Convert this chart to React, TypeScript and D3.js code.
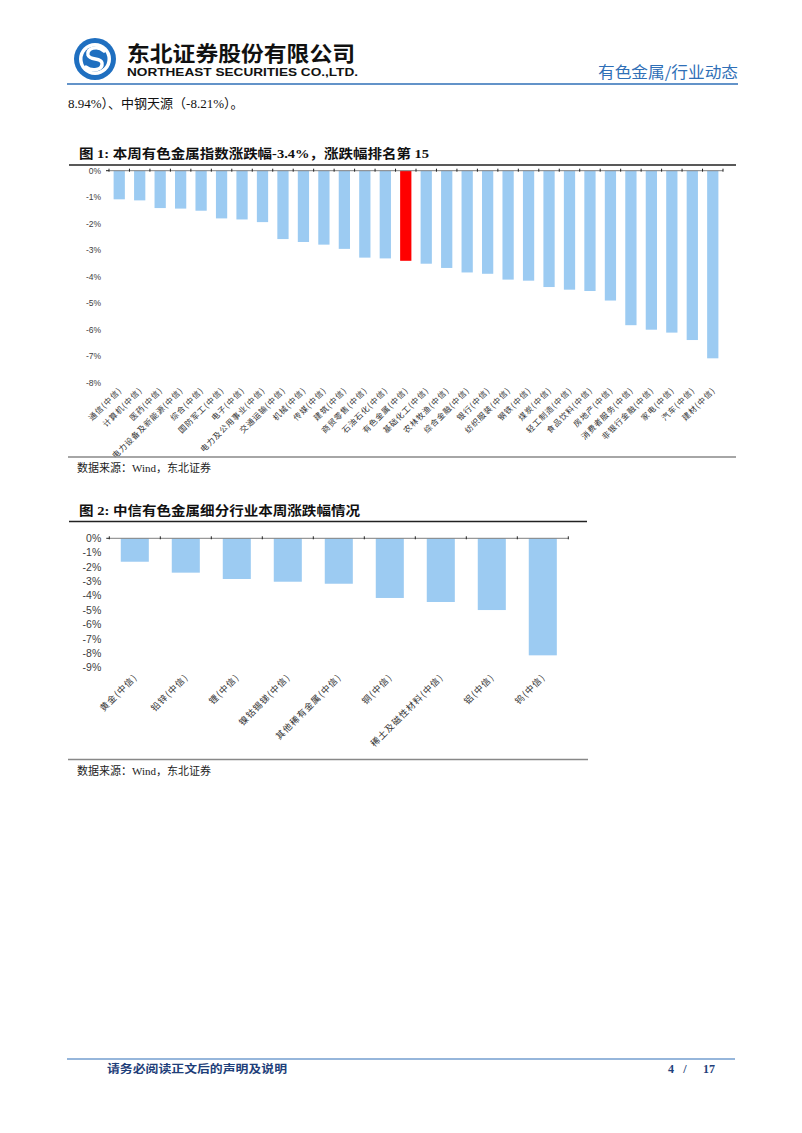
import React from "react";
import * as d3 from "d3";

const cats1 = ["通信(中信)", "计算机(中信)", "医药(中信)", "电力设备及新能源(中信)", "综合(中信)", "国防军工(中信)", "电子(中信)", "电力及公用事业(中信)", "交通运输(中信)", "机械(中信)", "传媒(中信)", "建筑(中信)", "商贸零售(中信)", "石油石化(中信)", "有色金属(中信)", "基础化工(中信)", "农林牧渔(中信)", "综合金融(中信)", "银行(中信)", "纺织服装(中信)", "钢铁(中信)", "煤炭(中信)", "轻工制造(中信)", "食品饮料(中信)", "房地产(中信)", "消费者服务(中信)", "非银行金融(中信)", "家电(中信)", "汽车(中信)", "建材(中信)"];
const vals1 = [-1.08, -1.12, -1.41, -1.43, -1.51, -1.80, -1.84, -1.94, -2.58, -2.69, -2.79, -2.95, -3.28, -3.31, -3.40, -3.51, -3.67, -3.84, -3.89, -4.11, -4.15, -4.39, -4.49, -4.54, -4.90, -5.83, -6.00, -6.11, -6.39, -7.08];
const highlight1 = "有色金属(中信)";
const ticks1 = [0, -1, -2, -3, -4, -5, -6, -7, -8];

const cats2 = ["黄金(中信)", "铅锌(中信)", "锂(中信)", "镍钴锡锑(中信)", "其他稀有金属(中信)", "铜(中信)", "稀土及磁性材料(中信)", "铝(中信)", "钨(中信)"];
const vals2 = [-1.63, -2.39, -2.83, -3.02, -3.16, -4.15, -4.43, -4.99, -8.14];
const ticks2 = [0, -1, -2, -3, -4, -5, -6, -7, -8, -9];

const BAR = "#9ccbf2";
const RED = "#ff0000";
const BLUE = "#2f6fb7";
const CJK = "'Noto Sans CJK SC', 'Liberation Sans', sans-serif";
const SERIF = "'Liberation Serif', 'Noto Sans CJK SC', serif";
const SANS = "'Liberation Sans', Arial, sans-serif";

function BarChart(props: {
  cats: string[]; vals: number[]; ticks: number[]; x0: number; x1: number; yTop: number; yBot: number;
  yMin: number; tickFont: number; labelFont: number; labelSpacing: number; labelY: number; highlight?: string;
}) {
  const { cats, vals, ticks, x0, x1, yTop, yBot, yMin, tickFont, labelFont, labelSpacing, labelY, highlight } = props;
  const x = d3.scaleBand<string>().domain(cats).range([x0, x1]).paddingInner(0.45).paddingOuter(0.225);
  const y = d3.scaleLinear().domain([yMin, 0]).range([yBot, yTop]);
  const step = x.step();
  const bounds = d3.range(cats.length + 1).map((i) => x0 + i * step);
  return (
    <g>
      {cats.map((c, i) => (
        <rect key={c} x={x(c)} y={y(0)} width={x.bandwidth()} height={y(vals[i]) - y(0)}
          fill={c === highlight ? RED : BAR} />
      ))}
      <line x1={x0} x2={x1} y1={y(0)} y2={y(0)} stroke="#7f7f7f" strokeWidth={1} />
      {bounds.map((b, i) => (
        <line key={i} x1={b} x2={b} y1={y(0) - 2} y2={y(0) + 1} stroke="#222" strokeWidth={1} />
      ))}
      <line x1={x0 - 3} x2={x0} y1={y(0)} y2={y(0)} stroke="#222" strokeWidth={1} />
      {ticks.map((t) => (
        <text key={t} x={x0 - 8} y={y(t)} dy="0.35em" textAnchor="end" fontSize={tickFont}
          fontFamily={SANS} fill="#404040">{`${t}%`}</text>
      ))}
      {cats.map((c) => {
        const cx = (x(c) as number) + x.bandwidth() / 2;
        return (
          <text key={c} transform={`translate(${cx + 3},${labelY}) rotate(-45)`} textAnchor="end"
            fontSize={labelFont} letterSpacing={labelSpacing} fontFamily={CJK} fill="#333">{c}</text>
        );
      })}
    </g>
  );
}

export default function App() {
  return (
    <svg width={802} height={1133} style={{ position: "absolute", left: 0, top: 0, background: "#fff" }}>
      <rect width={802} height={1133} fill="#fff" />
      {/* header logo */}
      <g>
        <circle cx={95} cy={59} r={21} fill="#1f6fc0" />
        <circle cx={95} cy={59} r={16} fill="#fff" />
        <circle cx={95} cy={59} r={12.5} fill="#1f6fc0" />
        <path d="M 104 51 C 98 45, 86 48, 88 55 C 90 61, 101 57, 102 63 C 103 70, 92 72, 86 67"
          fill="none" stroke="#fff" strokeWidth={3.5} strokeLinecap="round" />
      </g>
      <text x={127} y={61} fontSize={21} fontWeight="bold" fontFamily={CJK} fill="#111"
        textLength={228} lengthAdjust="spacingAndGlyphs">东北证券股份有限公司</text>
      <text x={127} y={76} fontSize={11.5} fontWeight="bold" fontFamily={SANS} fill="#111"
        textLength={231} lengthAdjust="spacingAndGlyphs">NORTHEAST SECURITIES CO.,LTD.</text>
      <text x={738} y={78} textAnchor="end" fontSize={15.5} fontFamily={CJK} fill={BLUE}
        textLength={140} lengthAdjust="spacingAndGlyphs">有色金属/行业动态</text>
      <line x1={67} x2={738} y1={84} y2={84} stroke={BLUE} strokeWidth={1.5} />
      <text x={68} y={108} fontSize={13} fontFamily={SERIF} fill="#111">8.94%）、中钢天源（-8.21%）。</text>

      {/* figure 1 */}
      <text x={79} y={158} fontSize={13} fontWeight="bold" fontFamily={SERIF} fill="#111"
        textLength={350} lengthAdjust="spacingAndGlyphs">图  1:  本周有色金属指数涨跌幅-3.4%，涨跌幅排名第 15</text>
      <line x1={69} x2={736} y1={165} y2={165} stroke="#222" strokeWidth={1.5} />
      <BarChart cats={cats1} vals={vals1} ticks={ticks1} x0={109} x1={723} yTop={170.7} yBot={382.7}
        yMin={-8} tickFont={8.5} labelFont={8} labelSpacing={0.9} labelY={391} highlight={highlight1} />
      <line x1={68} x2={736} y1={457} y2={457} stroke="#888" strokeWidth={1.5} />
      <text x={77} y={472} fontSize={11} fontFamily={SERIF} fill="#222">数据来源：Wind，东北证券</text>

      {/* figure 2 */}
      <text x={79} y={515} fontSize={13} fontWeight="bold" fontFamily={SERIF} fill="#111"
        textLength={281} lengthAdjust="spacingAndGlyphs">图  2:  中信有色金属细分行业本周涨跌幅情况</text>
      <line x1={69} x2={587} y1={521.5} y2={521.5} stroke="#222" strokeWidth={1.5} />
      <BarChart cats={cats2} vals={vals2} ticks={ticks2} x0={109.3} x1={568.3} yTop={538.3} yBot={667.7}
        yMin={-9} tickFont={10.5} labelFont={9} labelSpacing={1} labelY={678} />
      <line x1={68} x2={588} y1={759.5} y2={759.5} stroke="#888" strokeWidth={1.5} />
      <text x={77} y={775} fontSize={11} fontFamily={SERIF} fill="#222">数据来源：Wind，东北证券</text>

      {/* footer */}
      <line x1={67} x2={735} y1={1059} y2={1059} stroke={BLUE} strokeWidth={1.2} />
      <text x={107} y={1073} fontSize={11} fontWeight="bold" fontFamily={CJK} fill="#1f3f7a"
        textLength={180} lengthAdjust="spacingAndGlyphs">请务必阅读正文后的声明及说明</text>
      <text x={668} y={1073} fontSize={12} fontWeight="bold" fontFamily={SERIF} fill="#1f3f7a">4</text>
      <text x={685} y={1073} textAnchor="middle" fontSize={12} fontWeight="bold" fontFamily={SERIF} fill="#1f3f7a">/</text>
      <text x={715} y={1073} textAnchor="end" fontSize={12} fontWeight="bold" fontFamily={SERIF} fill="#1f3f7a">17</text>
    </svg>
  );
}
